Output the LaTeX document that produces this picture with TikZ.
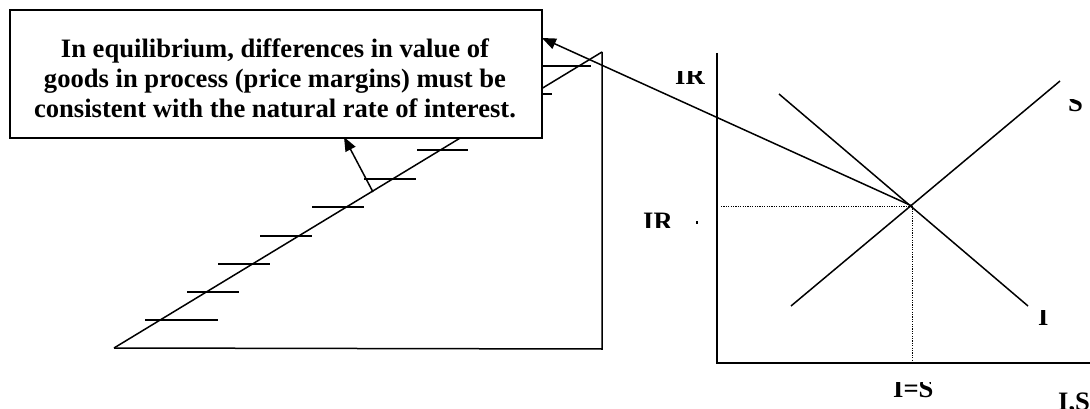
\documentclass[tikz,border=0pt]{standalone}
\usepackage{fontspec}
\setmainfont{Liberation Serif}
\usetikzlibrary{arrows.meta}
\begin{document}
\begin{tikzpicture}[x=1pt,y=-1pt,
  thinline/.style={line width=1.5pt},
  tickline/.style={line width=2pt},
  axisline/.style={line width=2.6pt},
  guide/.style={line width=1pt, dash pattern=on 1.2pt off 1.2pt},
  arrowline/.style={line width=1.5pt, -{Triangle[length=14pt,width=11pt]}},
  lbl/.style={inner sep=0pt, font=\fontsize{26.6}{30}\selectfont\bfseries}]
\useasboundingbox (0,0) rectangle (1090,409);
\fill[white] (0,0) rectangle (1090,409);

% triangle
\coordinate (tl) at (114,348);
\coordinate (tr) at (602,349);
\coordinate (tt) at (602,52);
\draw[thinline] (tl) -- (tr) -- (tt);
\draw[thinline] (tl) -- (tt);
\foreach \y/\a/\b in {320/145/218, 292/187/239, 264/218/270, 236/260/312, 207/312/364, 179/364/416, 150/417/468, 122/468/520, 94/500/552, 66/539/591}
  \draw[tickline] (\a,\y) -- (\b,\y);

% text box
\node[draw, line width=1.6pt, fill=white, minimum width=532pt, minimum height=128pt, inner sep=0pt, anchor=north west] (box) at (9,9) {};
\node[lbl, align=center, anchor=base] (boxtext) at (275,118) {In equilibrium, differences in value of\\goods in process (price margins) must be\\consistent with the natural rate of interest.};

% graph
\coordinate (o) at (717,363);
\coordinate (ytop) at (717,53);
\coordinate (xend) at (1092,363);
\coordinate (eq) at (912,206);
\coordinate (iry) at (721,206);
\coordinate (i1) at (779,94);
\coordinate (i2) at (1028,306);
\coordinate (s1) at (791,306);
\coordinate (s2) at (1060,81);
\draw[axisline] (ytop) -- (o) -- (xend);
\draw[thinline] (i1) -- (i2);
\draw[thinline] (s1) -- (s2);
\draw[guide] (iry) -- (eq);
\draw[guide] (eq) -- (eq |- o);

% arrows
\coordinate (tipA) at (542,38);
\coordinate (baseB) at (373,192);
\coordinate (tipB) at (344,137);
\draw[arrowline] (eq) -- (tipA);
\draw[arrowline] (baseB) -- (tipB);

% labels (clipped as in the reference)
\begin{scope}
\clip (660,72) rectangle (715,95);
\node[lbl, anchor=base west] (irtop) at (675,85) {IR};
\end{scope}
\begin{scope}
\clip (630,205) rectangle (680,227);
\node[lbl, anchor=base west] (irlow) at (643,230.6) {IR};
\end{scope}
\fill (696,221) rectangle (698,224);
\begin{scope}
\clip (1060,100) rectangle (1090,118);
\node[lbl, anchor=base west] (slab) at (1068,112) {S};
\end{scope}
\begin{scope}
\clip (1030,310) rectangle (1060,330);
\node[lbl, anchor=base west] (ilab) at (1038,325) {I};
\end{scope}
\begin{scope}
\clip (885,382) rectangle (945,405);
\node[lbl, anchor=base west] (islab) at (893,397) {I=S};
\end{scope}
\node[lbl, anchor=base west] (axlab) at (1058,410.6) {I,S};
\end{tikzpicture}
\end{document}
